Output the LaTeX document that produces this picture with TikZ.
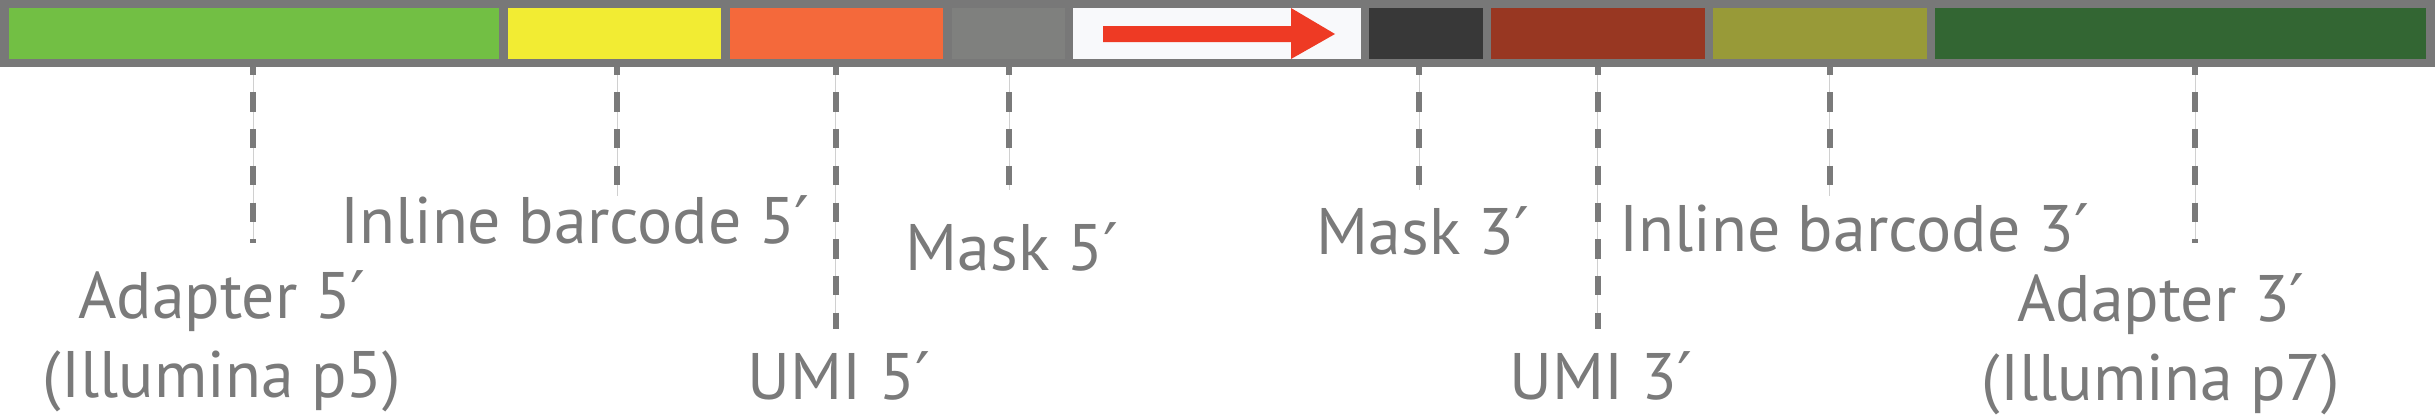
\documentclass[tikz,border=0pt]{standalone}
\usepackage{fontspec}
\setmainfont{PT Sans}
\newfontfamily\primefont{DejaVu Sans}
\newcommand\myprime{{\primefont ′}}
\definecolor{barGray}{HTML}{787878}
\definecolor{cGreen}{HTML}{72BF44}
\definecolor{cYellow}{HTML}{F2EC33}
\definecolor{cOrange}{HTML}{F4693B}
\definecolor{cMidGray}{HTML}{7F807E}
\definecolor{cWhite}{HTML}{F8F9FB}
\definecolor{cRed}{HTML}{EE3A24}
\definecolor{cDark}{HTML}{383838}
\definecolor{cBrown}{HTML}{983722}
\definecolor{cOlive}{HTML}{989A38}
\definecolor{cDkGreen}{HTML}{336633}
\definecolor{txtGray}{HTML}{7A7A7A}
\definecolor{hair}{HTML}{D0D0D0}
\begin{document}
\begin{tikzpicture}[x=1bp,y=-1bp,
  barbox/.style={rectangle,fill=barGray,draw=none,inner sep=0pt,outer sep=0pt,minimum width=2435bp,minimum height=67bp},
  cell/.style={rectangle,draw=none,inner sep=0pt,outer sep=0pt,minimum height=51bp},
  lab/.style={text=txtGray,inner sep=0pt,outer sep=0pt,align=center,anchor=base,font=\fontsize{66}{79}\selectfont},
  leader/.style={draw=txtGray,line width=6bp,dash pattern=on 19.3bp off 17.4bp,dash phase=11.3bp,
    preaction={draw=hair,line width=1bp,solid}}]
\useasboundingbox (0,0) rectangle (2435,418);
\fill[white] (0,0) rectangle (2435,418);
\node[barbox] (bar) at (1217.5,33.5) {};
\node[cell,fill=cGreen,minimum width=490.3bp] (green) at (253.85,33.5) {};
\node[cell,fill=cYellow,minimum width=213bp] (yellow) at (614.5,33.5) {};
\node[cell,fill=cOrange,minimum width=213bp] (orange) at (836.5,33.5) {};
\node[cell,fill=cMidGray,minimum width=113bp] (gray) at (1008.5,33.5) {};
\node[cell,fill=cWhite,minimum width=288bp] (insert) at (1217,33.5) {};
\node[cell,fill=cDark,minimum width=114bp] (dark) at (1426,33.5) {};
\node[cell,fill=cBrown,minimum width=214bp] (brown) at (1598,33.5) {};
\node[cell,fill=cOlive,minimum width=214bp] (olive) at (1820,33.5) {};
\node[cell,fill=cDkGreen,minimum width=491bp] (dkgreen) at (2180.5,33.5) {};
% direction arrow
\fill[cRed] (1103,26) -- (1291,26) -- (1291,8) -- (1335,34) -- (1291,59) -- (1291,42) -- (1103,42) -- cycle;
% leader ends
\coordinate (d1) at (253,243);
\coordinate (d2) at (617,196);
\coordinate (d3) at (835.5,329);
\coordinate (d4) at (1009,190);
\coordinate (d5) at (1419,190);
\coordinate (d6) at (1597.5,329);
\coordinate (d7) at (1829.5,196);
\coordinate (d8) at (2195,243);
\foreach \d in {d1,d2,d3,d4,d5,d6,d7,d8}{
  \draw[leader] (bar.south -| \d) -- (\d);
}
% labels
\node[lab] (l1) at (222,397) {Adapter 5\myprime\\(Illumina p5)};
\node[lab] (l2) at (575,243) {Inline barcode 5\myprime};
\node[lab] (l3) at (839,399) {UMI 5\myprime};
\node[lab] (l4) at (1012,270) {Mask 5\myprime};
\node[lab] (l5) at (1423,254) {Mask 3\myprime};
\node[lab] (l6) at (1601,399) {UMI 3\myprime};
\node[lab] (l7) at (1854,251) {Inline barcode 3\myprime};
\node[lab] (l8) at (2161,400) {Adapter 3\myprime\\(Illumina p7)};
\end{tikzpicture}
\end{document}
